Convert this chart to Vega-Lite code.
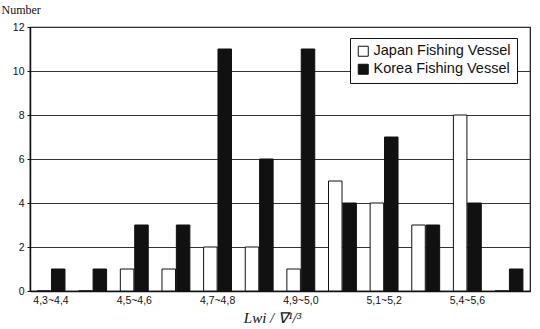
{
  "$schema": "https://vega.github.io/schema/vega-lite/v6.json",
  "width": 500,
  "height": 264,
  "autosize": {"type": "none"},
  "padding": {"left": 30, "top": 27, "right": 10, "bottom": 38},
  "background": "white",
  "config": {
    "view": {"stroke": "#111", "strokeWidth": 1.2},
    "axis": {
      "labelFont": "Liberation Sans",
      "labelFontSize": 10.5,
      "labelColor": "#111",
      "domainColor": "#111",
      "domainWidth": 1.5,
      "tickColor": "#111"
    }
  },
  "data": {
    "values": [
      {"range": "4,3~4,4", "vessel": "Japan Fishing Vessel", "count": 0},
      {"range": "4,3~4,4", "vessel": "Korea Fishing Vessel", "count": 1},
      {"range": "4,4~4,5", "vessel": "Japan Fishing Vessel", "count": 0},
      {"range": "4,4~4,5", "vessel": "Korea Fishing Vessel", "count": 1},
      {"range": "4,5~4,6", "vessel": "Japan Fishing Vessel", "count": 1},
      {"range": "4,5~4,6", "vessel": "Korea Fishing Vessel", "count": 3},
      {"range": "4,6~4,7", "vessel": "Japan Fishing Vessel", "count": 1},
      {"range": "4,6~4,7", "vessel": "Korea Fishing Vessel", "count": 3},
      {"range": "4,7~4,8", "vessel": "Japan Fishing Vessel", "count": 2},
      {"range": "4,7~4,8", "vessel": "Korea Fishing Vessel", "count": 11},
      {"range": "4,8~4,9", "vessel": "Japan Fishing Vessel", "count": 2},
      {"range": "4,8~4,9", "vessel": "Korea Fishing Vessel", "count": 6},
      {"range": "4,9~5,0", "vessel": "Japan Fishing Vessel", "count": 1},
      {"range": "4,9~5,0", "vessel": "Korea Fishing Vessel", "count": 11},
      {"range": "5,0~5,1", "vessel": "Japan Fishing Vessel", "count": 5},
      {"range": "5,0~5,1", "vessel": "Korea Fishing Vessel", "count": 4},
      {"range": "5,1~5,2", "vessel": "Japan Fishing Vessel", "count": 4},
      {"range": "5,1~5,2", "vessel": "Korea Fishing Vessel", "count": 7},
      {"range": "5,2~5,4", "vessel": "Japan Fishing Vessel", "count": 3},
      {"range": "5,2~5,4", "vessel": "Korea Fishing Vessel", "count": 3},
      {"range": "5,4~5,6", "vessel": "Japan Fishing Vessel", "count": 8},
      {"range": "5,4~5,6", "vessel": "Korea Fishing Vessel", "count": 4},
      {"range": "5,6~5,8", "vessel": "Japan Fishing Vessel", "count": 0},
      {"range": "5,6~5,8", "vessel": "Korea Fishing Vessel", "count": 1}
    ]
  },
  "mark": {"type": "bar", "stroke": "#111", "strokeWidth": 1},
  "encoding": {
    "x": {
      "field": "range",
      "type": "nominal",
      "sort": null,
      "scale": {"paddingInner": 0.33, "paddingOuter": 0.17},
      "axis": {
        "values": ["4,3~4,4", "4,5~4,6", "4,7~4,8", "4,9~5,0", "5,1~5,2", "5,4~5,6"],
        "labelAngle": 0,
        "ticks": false,
        "labelPadding": 4,
        "title": "Lwi / ∇¹/³",
        "titleFont": "Liberation Serif",
        "titleFontStyle": "italic",
        "titleFontWeight": "normal",
        "titleFontSize": 15,
        "titleColor": "#111",
        "titleX": 242,
        "titleY": 31,
        "titleBaseline": "alphabetic"
      }
    },
    "xOffset": {
      "field": "vessel",
      "type": "nominal",
      "scale": {"paddingInner": 0.06}
    },
    "y": {
      "field": "count",
      "type": "quantitative",
      "scale": {"domain": [0, 12], "nice": false},
      "axis": {
        "values": [0, 2, 4, 6, 8, 10, 12],
        "grid": true,
        "gridColor": "#333",
        "gridWidth": 1,
        "tickSize": 3,
        "labelPadding": 3,
        "title": "Number",
        "titleAngle": 0,
        "titleFont": "Liberation Serif",
        "titleFontWeight": "normal",
        "titleFontSize": 12,
        "titleColor": "#111",
        "titleAlign": "left",
        "titleBaseline": "alphabetic",
        "titleX": -29,
        "titleY": -14
      }
    },
    "fill": {
      "field": "vessel",
      "type": "nominal",
      "scale": {
        "domain": ["Japan Fishing Vessel", "Korea Fishing Vessel"],
        "range": ["white", "#111"]
      },
      "legend": {
        "title": null,
        "orient": "none",
        "legendX": 320,
        "legendY": 11,
        "fillColor": "white",
        "strokeColor": "#111",
        "padding": 6,
        "rowPadding": 2,
        "symbolType": "square",
        "symbolSize": 100,
        "symbolStrokeColor": "#111",
        "symbolStrokeWidth": 1,
        "labelFont": "Liberation Sans",
        "labelFontSize": 14.5,
        "labelColor": "#111",
        "labelOffset": 3
      }
    }
  }
}
